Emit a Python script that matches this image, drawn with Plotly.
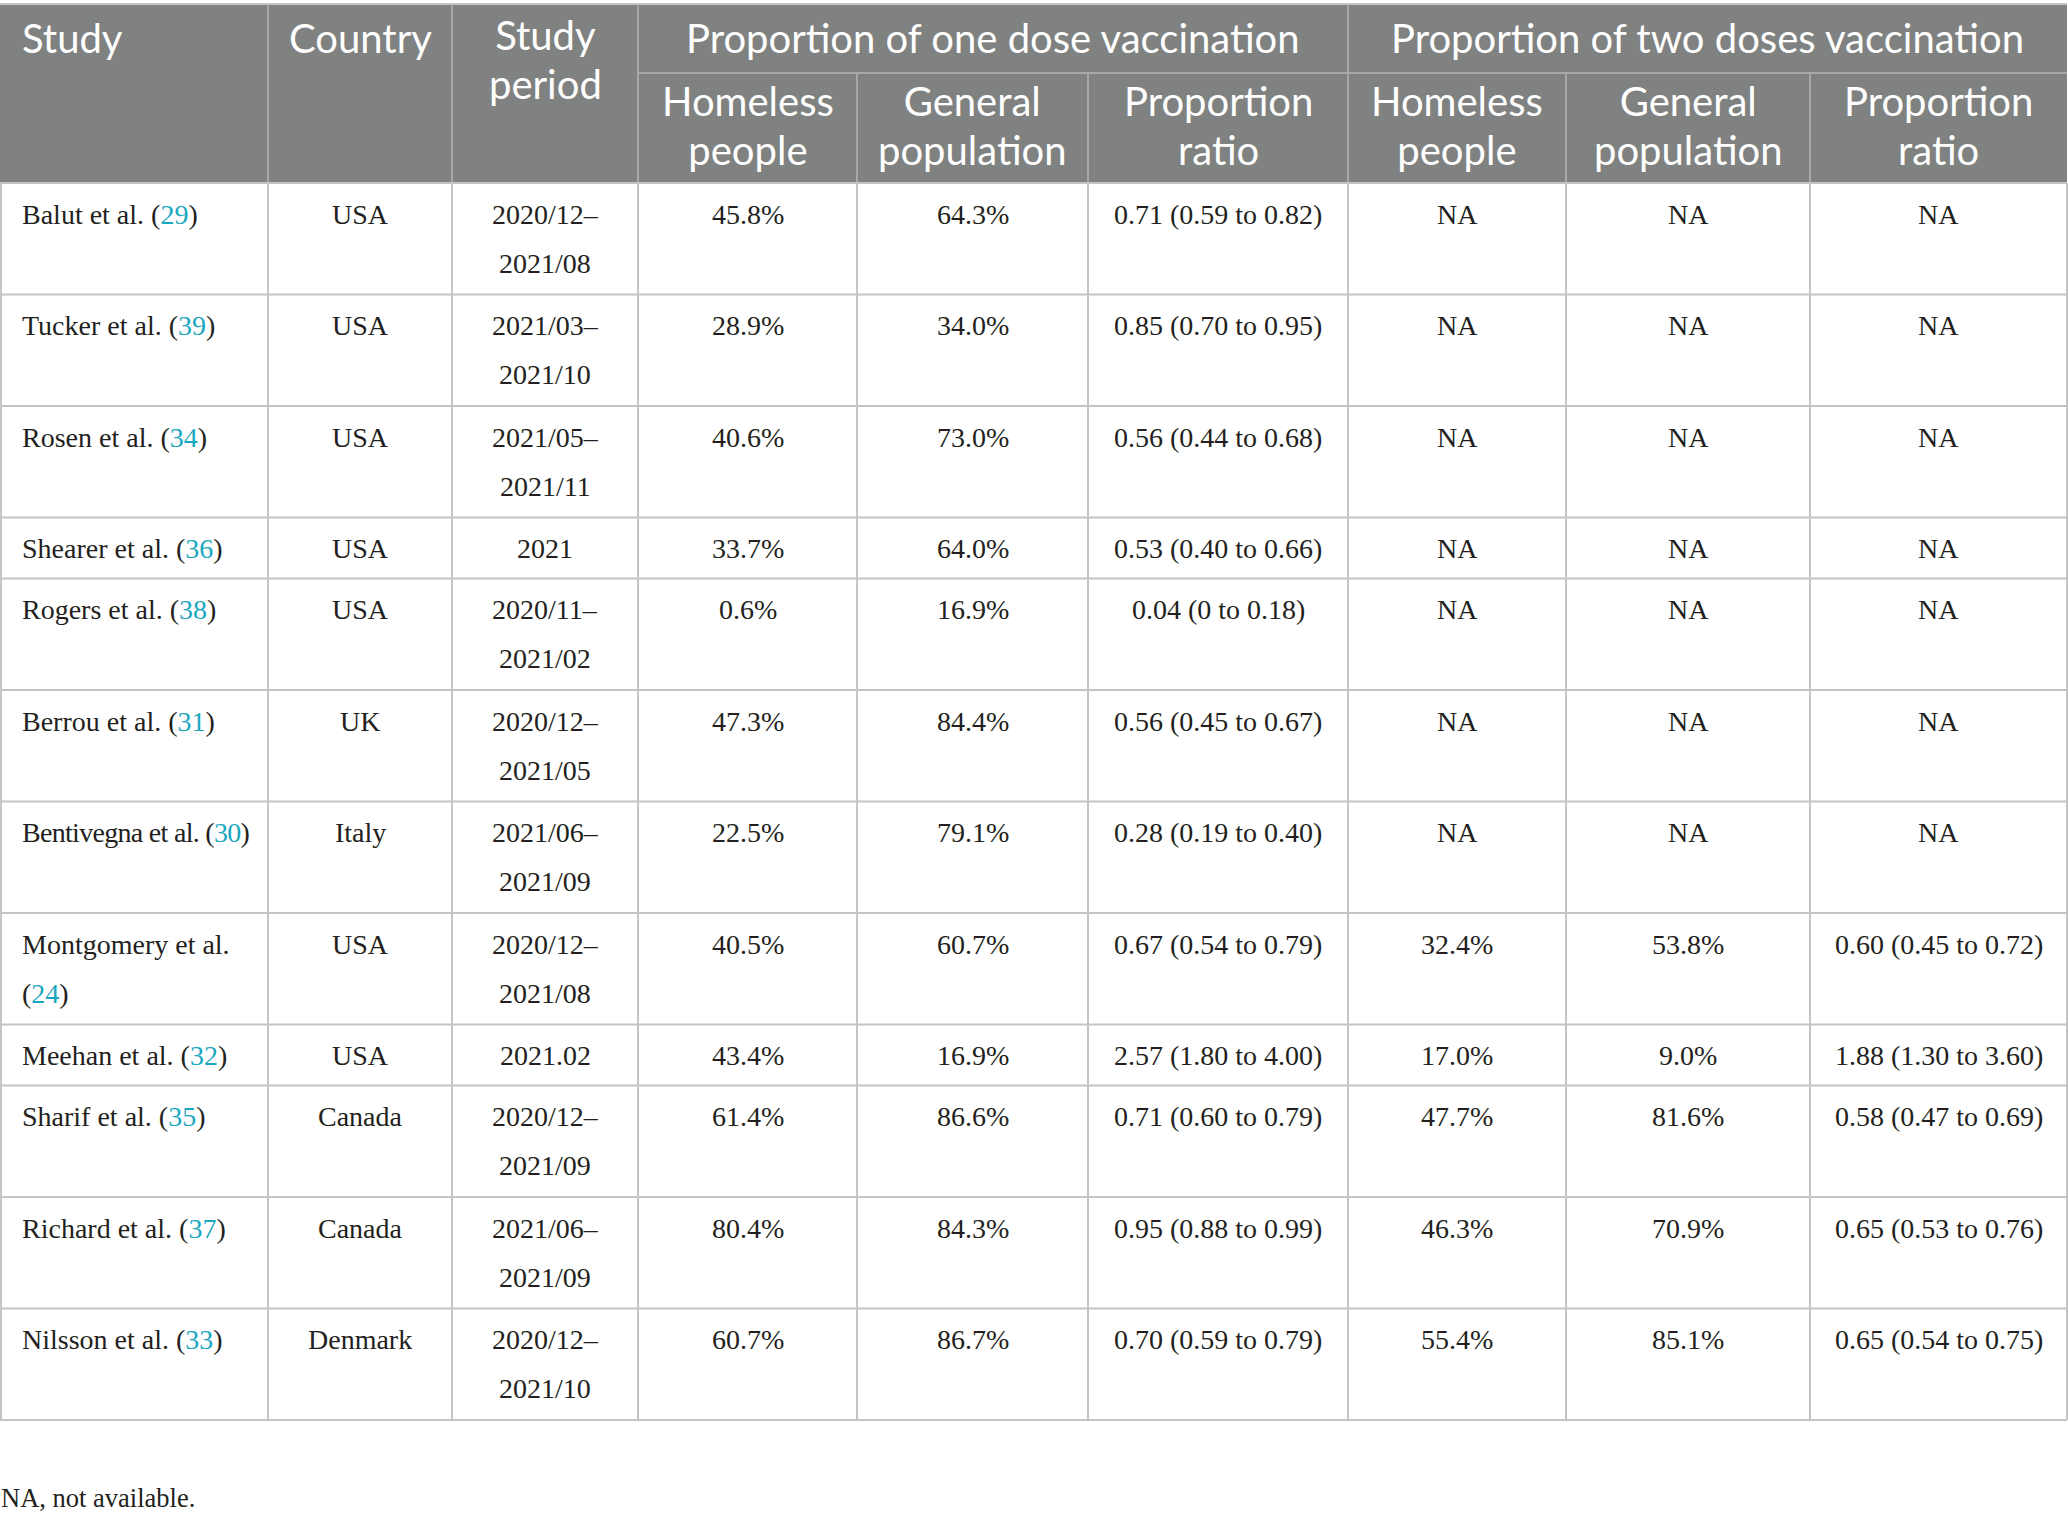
import plotly.graph_objects as go

# ---------------- data ----------------
studies = ["Balut et al.", "Tucker et al.", "Rosen et al.", "Shearer et al.", "Rogers et al.",
           "Berrou et al.", "Bentivegna et al.", "Montgomery et al.", "Meehan et al.",
           "Sharif et al.", "Richard et al.", "Nilsson et al."]
refs = [29, 39, 34, 36, 38, 31, 30, 24, 32, 35, 37, 33]
countries = ["USA", "USA", "USA", "USA", "USA", "UK", "Italy", "USA", "USA",
             "Canada", "Canada", "Denmark"]
periods = ["2020/12–2021/08", "2021/03–2021/10", "2021/05–2021/11", "2021",
           "2020/11–2021/02", "2020/12–2021/05", "2021/06–2021/09", "2020/12–2021/08",
           "2021.02", "2020/12–2021/09", "2021/06–2021/09", "2020/12–2021/10"]

one_homeless = [45.8, 28.9, 40.6, 33.7, 0.6, 47.3, 22.5, 40.5, 43.4, 61.4, 80.4, 60.7]
one_general = [64.3, 34.0, 73.0, 64.0, 16.9, 84.4, 79.1, 60.7, 16.9, 86.6, 84.3, 86.7]
one_pr = [0.71, 0.85, 0.56, 0.53, 0.04, 0.56, 0.28, 0.67, 2.57, 0.71, 0.95, 0.70]
one_lo = [0.59, 0.70, 0.44, 0.40, 0, 0.45, 0.19, 0.54, 1.80, 0.60, 0.88, 0.59]
one_hi = [0.82, 0.95, 0.68, 0.66, 0.18, 0.67, 0.40, 0.79, 4.00, 0.79, 0.99, 0.79]

NA = None
two_homeless = [NA, NA, NA, NA, NA, NA, NA, 32.4, 17.0, 47.7, 46.3, 55.4]
two_general = [NA, NA, NA, NA, NA, NA, NA, 53.8, 9.0, 81.6, 70.9, 85.1]
two_pr = [NA, NA, NA, NA, NA, NA, NA, 0.60, 1.88, 0.58, 0.65, 0.65]
two_lo = [NA, NA, NA, NA, NA, NA, NA, 0.45, 1.30, 0.47, 0.53, 0.54]
two_hi = [NA, NA, NA, NA, NA, NA, NA, 0.72, 3.60, 0.69, 0.76, 0.75]

groups = ["Proportion of one dose vaccination", "Proportion of two doses vaccination"]
sub_headers = [["Homeless", "people"], ["General", "population"], ["Proportion", "ratio"]]
footnote = "NA, not available."

# ---------------- layout constants ----------------
W, H = 2068, 1521
col_edges = [0, 268, 452, 638, 857, 1088, 1348, 1566, 1810, 2067]
TOP, GROUP_BOTTOM, HEAD_BOTTOM = 4, 73, 183
HEAD_BG = "#808281"
HEAD_LINE = "#a6a8a6"
BODY_LINE = "#c4c4c4"
TEXT = "#231f20"
LINK = "#1aa7c0"
SERIF = "Liberation Serif"
SANS = "Lato"
BODY_SIZE = 28
HEAD_SIZE = 40
HEAD_STEP = 48.5                      # header line pitch
LATO_ASC, LATO_DESC = 0.987, 0.213
WRAP_STUDY = {"Montgomery et al."}    # wrapped onto two lines in the source
TIGHT_STUDY = {"Bentivegna et al."}   # set a little tighter to fit its column


def pct(v):
    return "NA" if v is None else f"{v:.1f}%"


def num(v):
    return "0" if v == 0 else f"{v:.2f}"


def ratio(p, lo, hi):
    if p is None:
        return "NA"
    return f"{num(p)} ({num(lo)} to {num(hi)})"


def col_center(i, j=None):
    j = i if j is None else j
    return (col_edges[i] + col_edges[j + 1]) / 2


fig = go.Figure()
shapes = []
annotations = []


def add_text(x, baseline, text, size, color, family, anchor="center"):
    # plotly centres the line box ~0.35em above the baseline
    annotations.append(dict(
        x=x, y=baseline - 0.35 * size, xref="x", yref="y",
        text=text, showarrow=False, xanchor=anchor, yanchor="middle",
        font=dict(size=size, color=color, family=family), borderpad=0,
    ))


def add_head_block(x, baseline, words, anchor="center"):
    # one annotation per header cell; the base font sets the line pitch,
    # the inner spans set the glyph size
    if len(words) == 1:
        add_text(x, baseline, words[0], HEAD_SIZE, "white", SANS, anchor)
        return
    base_size = HEAD_STEP / 1.3
    txt = "<br>".join(f"<span style='font-size:{HEAD_SIZE}px'>{w}</span>" for w in words)
    top = baseline - LATO_ASC * HEAD_SIZE
    bottom = baseline + HEAD_STEP * (len(words) - 1) + LATO_DESC * HEAD_SIZE
    annotations.append(dict(
        x=x, y=(top + bottom) / 2, xref="x", yref="y",
        text=txt, showarrow=False, xanchor=anchor, yanchor="middle", align="center",
        font=dict(size=base_size, color="white", family=SANS), borderpad=0,
    ))


def line(x0, y0, x1, y1, color):
    shapes.append(dict(type="line", x0=x0, y0=y0, x1=x1, y1=y1, xref="x", yref="y",
                       line=dict(color=color, width=2), layer="above"))


# ---------------- header ----------------
shapes.append(dict(type="rect", x0=col_edges[0], x1=col_edges[-1], y0=TOP, y1=HEAD_BOTTOM,
                   xref="x", yref="y", fillcolor=HEAD_BG, line=dict(width=0), layer="below"))
for k in range(1, 9):
    y_start = GROUP_BOTTOM if k in (4, 5, 7, 8) else TOP
    line(col_edges[k], y_start, col_edges[k], HEAD_BOTTOM, HEAD_LINE)
line(col_edges[3], GROUP_BOTTOM, col_edges[-1], GROUP_BOTTOM, HEAD_LINE)

HB1, HB2 = 52, 116.5
add_head_block(21, HB1, ["Study"], anchor="left")
add_head_block(col_center(1), HB1, ["Country"])
add_head_block(col_center(2), HB1 - 1.5, ["Study", "period"])
for g, name in enumerate(groups):
    add_head_block(col_center(3 + 3 * g, 5 + 3 * g), HB1, [name])
    for s, words in enumerate(sub_headers):
        add_head_block(col_center(3 + 3 * g + s), HB2, words)

# ---------------- body ----------------
y = HEAD_BOTTOM
for r in range(len(studies)):
    ref_txt = f"(<span style='color:{LINK}'>{refs[r]}</span>)"
    if studies[r] in WRAP_STUDY:
        study_lines = [studies[r], ref_txt]
    elif studies[r] in TIGHT_STUDY:
        study_lines = [f"<span style='letter-spacing:-0.7px'>{studies[r]} {ref_txt}</span>"]
    else:
        study_lines = [f"{studies[r]} {ref_txt}"]
    if "–" in periods[r]:
        a, b = periods[r].split("–")
        period_lines = [a + "–", b]
    else:
        period_lines = [periods[r]]
    n = max(len(study_lines), len(period_lines))
    row_h = 61 + 50.5 * (n - 1)

    cells = [study_lines, [countries[r]], period_lines,
             [pct(one_homeless[r])], [pct(one_general[r])],
             [ratio(one_pr[r], one_lo[r], one_hi[r])],
             [pct(two_homeless[r])], [pct(two_general[r])],
             [ratio(two_pr[r], two_lo[r], two_hi[r])]]
    for c, lines in enumerate(cells):
        for k, t in enumerate(lines):
            base = y + 41 + 49 * k
            if c == 0:
                add_text(21, base, t, BODY_SIZE, TEXT, SERIF, anchor="left")
            else:
                add_text(col_center(c), base, t, BODY_SIZE, TEXT, SERIF)
    y += row_h
    line(col_edges[0], y, col_edges[-1], y, BODY_LINE)

BOTTOM = y
for k in range(0, 10):
    xk = col_edges[k] + (1 if k == 0 else 0)
    line(xk, HEAD_BOTTOM, xk, BOTTOM, BODY_LINE)
line(col_edges[0], TOP, col_edges[-1], TOP, BODY_LINE)
line(col_edges[0], HEAD_BOTTOM, col_edges[-1], HEAD_BOTTOM, BODY_LINE)

add_text(0, 1507, footnote, 26.5, TEXT, SERIF, anchor="left")

fig.update_layout(
    width=W, height=H,
    margin=dict(l=0, r=0, t=0, b=0),
    paper_bgcolor="white", plot_bgcolor="white",
    xaxis=dict(range=[0, W], visible=False, fixedrange=True),
    yaxis=dict(range=[H, 0], visible=False, fixedrange=True),
    shapes=shapes, annotations=annotations,
    showlegend=False,
)

# drop the browser's default 8px body margin so the table sits at the page corner
fig.write_html("out.html", config={"displayModeBar": False},
               post_script="document.body.style.margin='0';document.body.style.overflow='hidden';")
